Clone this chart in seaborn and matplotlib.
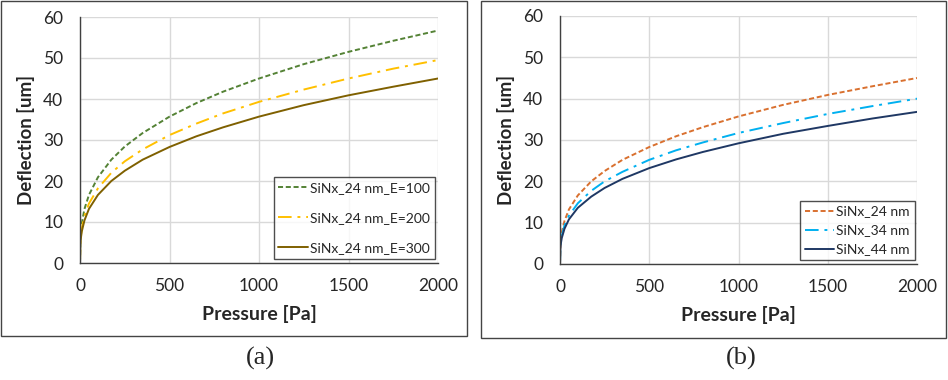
import pandas as pd
import matplotlib
matplotlib.use("Agg")
import matplotlib.pyplot as plt
import seaborn as sns
from matplotlib.patches import Rectangle

# Data (pressure in Pa, deflection in um)
pressure = [0, 2, 5, 10, 25, 50, 100, 175, 250, 350, 500, 650, 800,
            1000, 1250, 1500, 1750, 2000]

e100 = [0, 5.7, 7.7, 9.7, 13.2, 16.6, 20.9, 25.2, 28.4, 31.7, 35.7, 39.0,
        41.8, 45.0, 48.5, 51.5, 54.2, 56.7]
e200 = [0, 5.0, 6.7, 8.5, 11.5, 14.5, 18.2, 22.0, 24.8, 27.7, 31.2, 34.0,
        36.5, 39.3, 42.3, 45.0, 47.4, 49.5]
e300 = [0, 4.5, 6.1, 7.7, 10.4, 13.2, 16.6, 20.0, 22.5, 25.2, 28.3, 30.9,
        33.1, 35.7, 38.5, 40.9, 43.0, 45.0]

t24 = [0, 4.5, 6.1, 7.7, 10.4, 13.2, 16.6, 20.0, 22.5, 25.2, 28.3, 30.9,
       33.1, 35.7, 38.5, 40.9, 43.0, 45.0]
t34 = [0, 4.0, 5.4, 6.8, 9.3, 11.7, 14.7, 17.7, 20.0, 22.3, 25.2, 27.5,
       29.4, 31.7, 34.1, 36.3, 38.2, 40.0]
t44 = [0, 3.7, 5.0, 6.3, 8.5, 10.8, 13.6, 16.3, 18.4, 20.6, 23.2, 25.3,
       27.1, 29.2, 31.5, 33.4, 35.2, 36.8]

labels_a = ["SiNx_24 nm_E=100", "SiNx_24 nm_E=200", "SiNx_24 nm_E=300"]
labels_b = ["SiNx_24 nm", "SiNx_34 nm", "SiNx_44 nm"]
colors_a = ["#548235", "#FFC000", "#7F6000"]
colors_b = ["#D9702F", "#00B0F0", "#1F3864"]
dashes = [(2.6, 1.4), (7, 3, 1.5, 3), ()]

sns.set_style("white")
plt.rcParams["font.family"] = ["Lato", "DejaVu Sans"]

fig = plt.figure(figsize=(9.48, 3.80), dpi=100)

# panel frames
fig.patches.append(Rectangle((1 / 948, 44 / 380), 466 / 948, 335 / 380,
                             transform=fig.transFigure, fill=False,
                             edgecolor="#444444", linewidth=1.0))
fig.patches.append(Rectangle((481 / 948, 42 / 380), 465 / 948, 337 / 380,
                             transform=fig.transFigure, fill=False,
                             edgecolor="#444444", linewidth=1.0))

ax_a = fig.add_axes([80 / 948, 117 / 380, 358 / 948, 246 / 380])
ax_b = fig.add_axes([560 / 948, 116 / 380, 357 / 948, 248 / 380])


def draw_panel(ax, series, labels, colors, legend_anchor, spacing):
    for ys, lab, col, dsh in zip(series, labels, colors, dashes):
        df = pd.DataFrame({"Pressure": pressure, "Deflection": ys})
        line = sns.lineplot(data=df, x="Pressure", y="Deflection", ax=ax,
                            color=col, linewidth=1.4, label=lab).lines[-1]
        if dsh:
            line.set_dashes(dsh)
    ax.set_xlim(0, 2000)
    ax.set_ylim(0, 60)
    ax.set_xticks([0, 500, 1000, 1500, 2000])
    ax.set_yticks([0, 10, 20, 30, 40, 50, 60])
    ax.grid(True, color="#D9D9D9", linewidth=1.0)
    ax.set_axisbelow(True)
    for side in ["top", "right"]:
        ax.spines[side].set_visible(False)
    for side in ["left", "bottom"]:
        ax.spines[side].set_color("#404040")
        ax.spines[side].set_linewidth(1.0)
    ax.tick_params(axis="both", direction="out", length=4, width=1,
                   color="#404040", labelsize=12.5, labelcolor="#262626")
    ax.tick_params(axis="y", pad=8)
    ax.tick_params(axis="x", pad=7)
    ax.set_xlabel("Pressure [Pa]", fontsize=14, fontweight="bold", labelpad=8)
    ax.set_ylabel("Deflection [um]", fontsize=13.5, fontweight="bold", labelpad=6)
    leg = ax.legend(loc="lower right", bbox_to_anchor=legend_anchor,
                    fontsize=10, frameon=True, fancybox=False,
                    edgecolor="#222222", handlelength=2.1, handletextpad=0.2,
                    borderpad=0.35, borderaxespad=0.0, labelspacing=spacing)
    leg.get_frame().set_linewidth(1.0)


draw_panel(ax_a, [e100, e200, e300], labels_a, colors_a, (0.992, 0.016), 1.3)
draw_panel(ax_b, [t24, t34, t44], labels_b, colors_b, (0.994, 0.015), 0.5)

fig.text(260 / 948, 1 - 358 / 380, "(a)", ha="center", va="center",
         fontsize=19, family="Liberation Serif")
fig.text(741 / 948, 1 - 358 / 380, "(b)", ha="center", va="center",
         fontsize=19, family="Liberation Serif")

fig.savefig("out.png", dpi=100)
